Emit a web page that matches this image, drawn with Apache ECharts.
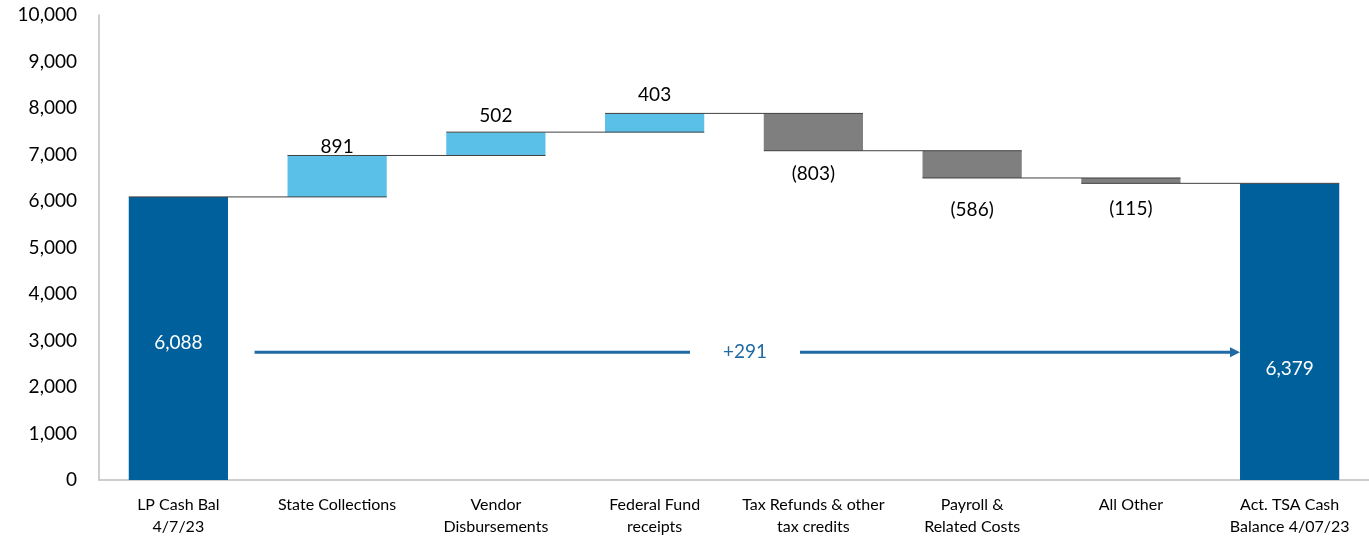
<!DOCTYPE html>
<html>
<head>
<meta charset="utf-8">
<script src="https://cdn.jsdelivr.net/npm/echarts@6/dist/echarts.min.js"></script>
<style>
  html, body { margin: 0; padding: 0; background: #fff; }
  #main { width: 1369px; height: 538px; }
</style>
</head>
<body>
<div id="main"></div>
<script>
// data
var categories = ['LP Cash Bal\n4/7/23', 'State Collections', 'Vendor\nDisbursements', 'Federal Fund\nreceipts',
                  'Tax Refunds & other\ntax credits', 'Payroll &\nRelated Costs', 'All Other', 'Act. TSA Cash\nBalance 4/07/23'];
var startBalance = 6088;
var deltas = [891, 502, 403, -803, -586, -115];
var endBalance = 6379;
var changeLabel = '+291';
var changeArrowLevel = 2750;
var yTicks = [0, 10000, 1000];

// label nudges (px) so the labels sit where Excel put them
var labelNudge = [4, 2, -6, -8, 4, 12, 6, 37];

var chart = echarts.init(document.getElementById('main'));

// build the waterfall pieces
var baseData = [0], barData = [], levels = [startBalance];
barData.push({ value: startBalance, itemStyle: { color: '#00609C' }, kind: 'total' });
var run = startBalance;
deltas.forEach(function (d) {
    var next = run + d;
    baseData.push(Math.min(run, next));
    barData.push({ value: Math.abs(d), itemStyle: { color: d >= 0 ? '#5BC0E8' : '#7F7F7F' }, kind: d >= 0 ? 'up' : 'down' });
    run = next;
    levels.push(run);
});
baseData.push(0);
barData.push({ value: endBalance, itemStyle: { color: '#00609C' }, kind: 'total' });

function fmt(v) { return v.toLocaleString('en-US'); }

barData.forEach(function (item, i) {
    var off = [0, labelNudge[i]];
    if (item.kind === 'total') {
        item.label = { show: true, position: 'inside', color: '#fff', fontSize: 19,
                       formatter: fmt(item.value), offset: off };
    } else if (item.kind === 'up') {
        item.label = { show: true, position: 'top', color: '#000', fontSize: 19, distance: 1,
                       formatter: fmt(item.value), offset: off };
    } else {
        item.label = { show: true, position: 'bottom', color: '#000', fontSize: 19, distance: 10,
                       formatter: '(' + fmt(item.value) + ')', offset: off };
    }
});

var connectorData = levels.map(function (lv, i) { return [i, lv]; });

var option = {
    animation: false,
    textStyle: { fontFamily: 'Lato, "Open Sans", sans-serif' },
    grid: { left: 99, right: 0, top: 15, bottom: 58 },
    xAxis: {
        type: 'category',
        data: categories,
        axisLine: { lineStyle: { color: '#BFBFBF', width: 1.5 } },
        axisTick: { show: false },
        axisLabel: { color: '#000', fontSize: 16, lineHeight: 22, margin: 14, interval: 0 }
    },
    yAxis: {
        type: 'value',
        min: yTicks[0], max: yTicks[1], interval: yTicks[2],
        axisLine: { show: true, lineStyle: { color: '#BFBFBF', width: 1.5 } },
        axisTick: { show: false },
        splitLine: { show: false },
        axisLabel: { color: '#000', fontSize: 19, margin: 22, formatter: function (v) { return fmt(v); } }
    },
    series: [
        {
            type: 'bar', stack: 'w', barWidth: '62.5%',
            itemStyle: { color: 'transparent' },
            data: baseData, silent: true
        },
        {
            type: 'bar', stack: 'w', barWidth: '62.5%',
            data: barData
        },
        {
            // connectors between bars
            type: 'custom',
            data: connectorData,
            z: 5,
            renderItem: function (params, api) {
                var i = api.value(0);
                if (i >= categories.length - 1) return null;
                var p = api.coord([i, api.value(1)]);
                var w = api.size([1, 0])[0];
                var half = w * 0.3125;
                return {
                    type: 'line',
                    shape: { x1: p[0] - half, y1: p[1], x2: p[0] + w + half, y2: p[1] },
                    style: { stroke: '#404040', lineWidth: 1 }
                };
            }
        },
        {
            // net change arrow
            type: 'custom',
            data: [[0, changeArrowLevel]],
            z: 6,
            renderItem: function (params, api) {
                var p = api.coord([0, api.value(1)]);
                var w = api.size([1, 0])[0];
                var x1 = p[0] + w * 0.48;
                var x2 = p[0] + w * (categories.length - 1) - w * 0.3125;
                var mid = (p[0] + p[0] + w * (categories.length - 1)) / 2 + 11;
                var gap = 55;
                var c = '#1F6AA5';
                return {
                    type: 'group',
                    children: [
                        { type: 'line', shape: { x1: x1, y1: p[1], x2: mid - gap, y2: p[1] }, style: { stroke: c, lineWidth: 3 } },
                        { type: 'line', shape: { x1: mid + gap, y1: p[1], x2: x2 - 8, y2: p[1] }, style: { stroke: c, lineWidth: 3 } },
                        { type: 'polygon', shape: { points: [[x2 - 10, p[1] - 5], [x2, p[1]], [x2 - 10, p[1] + 5]] }, style: { fill: c } },
                        { type: 'text', x: mid, y: p[1], style: { text: changeLabel, fill: c, fontSize: 19,
                          fontFamily: 'Lato, "Open Sans", sans-serif', align: 'center', verticalAlign: 'middle' } }
                    ]
                };
            }
        }
    ]
};

chart.setOption(option);
</script>
</body>
</html>
